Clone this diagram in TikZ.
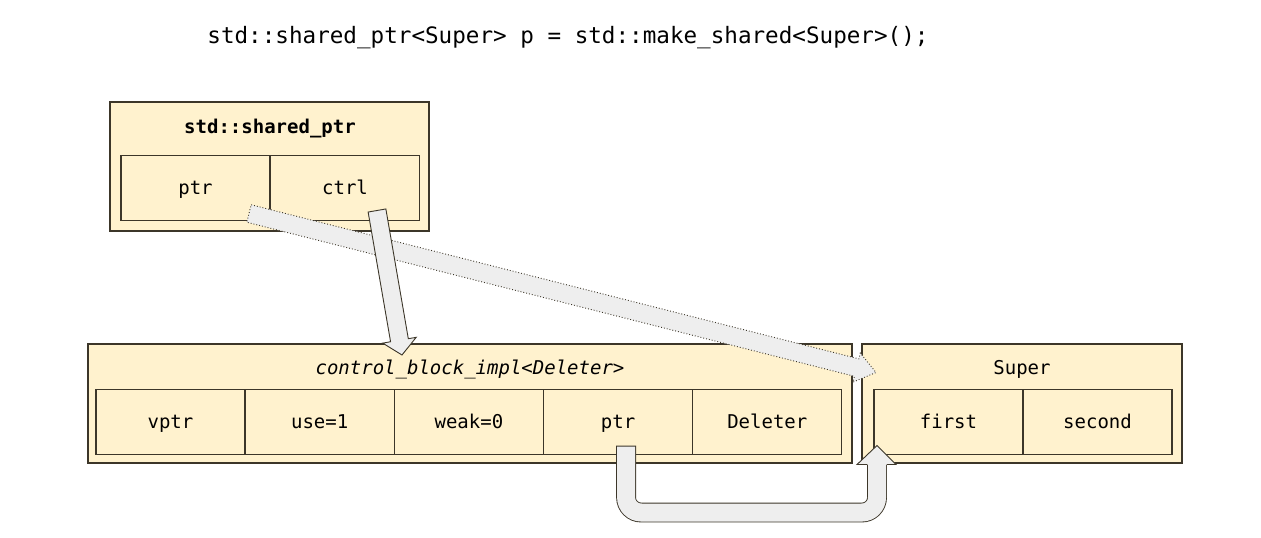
\documentclass[tikz,border=0pt]{standalone}
\usepackage{fontspec}
\setmonofont{DejaVu Sans Mono}
\usetikzlibrary{positioning,calc}

\definecolor{boxfill}{HTML}{FFF2CE}
\definecolor{boxline}{HTML}{3C3629}
\definecolor{arrowfill}{HTML}{EEEEEE}

\tikzstyle{outer}=[draw=boxline,fill=boxfill,line width=1.2pt,inner sep=0pt,outer sep=0pt]
\tikzstyle{cell}=[outer,minimum width=149pt,minimum height=65pt,text height=15pt,text depth=2pt,font=\ttfamily\fontsize{19}{22}\selectfont]
\tikzstyle{title}=[font=\ttfamily\fontsize{19}{22}\selectfont,text height=14pt,text depth=4pt]
\tikzstyle{blockarrow}=[draw=boxline,fill=arrowfill,line width=0.9pt,line join=miter]
\tikzstyle{dotarrow}=[blockarrow,dotted]
\tikzstyle{shaft}=[draw=boxline,line width=0.9pt,double=arrowfill,double distance=18pt,line cap=rect,rounded corners=15pt]

% straight block arrow: [style]{from}{to}{head length}{head half width}
\newcommand{\drawblockarrow}[5][blockarrow]{%
  \coordinate (hb) at ($(#3)!#4!(#2)$);
  \path[#1] ($(#2)!9pt!90:(#3)$) -- ($(hb)!9pt!90:(#3)$) -- ($(hb)!#5!90:(#3)$)
    -- (#3) -- ($(hb)!#5!270:(#3)$) -- ($(hb)!9pt!270:(#3)$) -- ($(#2)!9pt!270:(#3)$) -- cycle;}

\begin{document}
\begin{tikzpicture}[x=1pt,y=-1pt]
  \useasboundingbox (0,0) rectangle (1261,538);
  % the code line on top
  \node[font=\ttfamily\fontsize{22.6}{26}\selectfont] (code) at (568,38)
    {std::shared\_ptr<Super> p = std::make\_shared<Super>();};

  % First we draw the outer boxes
  \node[outer,minimum width=319pt,minimum height=129pt] (sp) at (269.5,166.5) {};
  \node[outer,minimum width=764pt,minimum height=119pt] (cb) at (470,403.5) {};
  \node[outer,minimum width=320pt,minimum height=119pt] (sup) at (1022,403.5) {};
  \node[title,font=\ttfamily\bfseries\fontsize{19}{22}\selectfont] (sptitle) at (270,128) {std::shared\_ptr};
  \node[title,font=\ttfamily\itshape\fontsize{19}{22}\selectfont] (cbtitle) at (470,369) {control\_block\_impl<Deleter>};
  \node[title] (suptitle) at (1022,369) {Super};

  % then the cells
  \foreach \pos/\name/\la in {{(195.5,188)/spptr/ptr},
                  {(345,188)/spctrl/ctrl},
                  {(170.5,422)/cbvptr/vptr},
                  {(319.7,422)/cbuse/use=1},
                  {(468.9,422)/cbweak/weak=0},
                  {(618.1,422)/cbptr/ptr},
                  {(767.3,422)/cbdel/Deleter},
                  {(948.5,422)/supfirst/first},
                  {(1097.5,422)/supsecond/second}}
        \node[cell] (\name) at \pos {\la};

  % Connect the cells with block arrows
  \coordinate (ptrfrom) at ($(spptr.south east)+(-21,-7)$);
  \coordinate (ptrto) at ($(supfirst.north west)+(2,-17)$);
  \drawblockarrow[dotarrow]{ptrfrom}{ptrto}{20pt}{15pt}
  \coordinate (ctrlfrom) at ($(spctrl.south)+(32,-10)$);
  \coordinate (ctrlto) at ($(cb.north)+(-68,11)$);
  \drawblockarrow{ctrlfrom}{ctrlto}{15pt}{17pt}

  \coordinate (ufrom) at ($(cbptr.south)+(8,1)$);
  \coordinate (utip) at ($(supfirst.south west)+(3,-9)$);
  \draw[shaft] (ufrom) -- ++(0,57) -| ($(utip)+(0,27)$);
  \fill[arrowfill] ($(utip)+(-20,19)$) -- (utip) -- ($(utip)+(19,19)$) -- cycle;
  \draw[boxline,line width=0.9pt,line join=miter] ($(utip)+(-10,19)$) -- ++(-10,0) -- (utip)
    -- ($(utip)+(19,19)$) -- ++(-9,0);
\end{tikzpicture}
\end{document}
